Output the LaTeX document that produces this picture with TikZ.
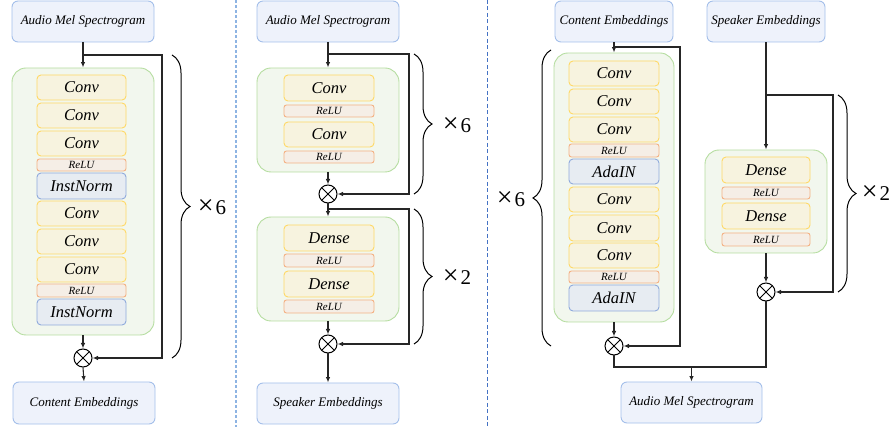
\documentclass[tikz,border=0pt]{standalone}
\usepackage{fontspec}
\setmainfont{Liberation Serif}
\usetikzlibrary{arrows.meta,decorations.pathreplacing}
\definecolor{ioB}{HTML}{A4BFEA}
\definecolor{ioF}{HTML}{EEF2FB}
\definecolor{grB}{HTML}{B5DDA0}
\definecolor{grF}{HTML}{F2F7EE}
\definecolor{cvB}{HTML}{FFD966}
\definecolor{cvF}{HTML}{F7F3DF}
\definecolor{rlB}{HTML}{F4B183}
\definecolor{rlF}{HTML}{F5EEE6}
\definecolor{nmB}{HTML}{8FAADC}
\definecolor{nmF}{HTML}{E7ECF2}
\definecolor{dashA}{HTML}{8EB4E3}
\definecolor{dashB}{HTML}{4472C4}
\newcommand\boxat[7]{\node[#1, minimum width={#4-#2}, minimum height={#5-#3}] (#6) at ({(#2+#4)/2},{(#3+#5)/2}) {#7};}
\newcommand\reptxt[1]{{\fontsize{28}{28}\selectfont ×}\kern2pt#1}
\tikzset{
  io/.style={draw=ioB, fill=ioF, rounded corners=6pt, line width=0.9pt, inner sep=0pt, font=\fontsize{13}{15}\selectfont\itshape},
  grp/.style={draw=grB, fill=grF, rounded corners=14pt, line width=0.9pt, inner sep=0pt},
  conv/.style={draw=cvB, fill=cvF, rounded corners=4pt, line width=0.9pt, inner sep=0pt, font=\fontsize{16.5}{18}\selectfont\itshape},
  relu/.style={draw=rlB, fill=rlF, rounded corners=2.5pt, line width=0.9pt, inner sep=0pt, font=\fontsize{11}{12}\selectfont\itshape},
  norm/.style={draw=nmB, fill=nmF, rounded corners=4pt, line width=0.9pt, inner sep=0pt, font=\fontsize{16.5}{18}\selectfont\itshape},
  otimes/.style={circle, draw=black, fill=white, minimum size=18pt, inner sep=0pt, line width=1pt,
    path picture={\draw[line width=1pt] (path picture bounding box.north west) -- (path picture bounding box.south east)
      (path picture bounding box.north east) -- (path picture bounding box.south west);}},
  conn/.style={draw=black!85, line width=1.1pt},
  arr/.style={conn, -{Latex[length=5.5pt,width=4.5pt]}},
  brc/.style={draw=black, decorate, decoration={brace, amplitude=18pt}, line width=1pt},
  rep/.style={font=\fontsize{21}{24}\selectfont, inner sep=0pt}
}
\begin{document}
\begin{tikzpicture}[x=1pt,y=-1pt]
\useasboundingbox (0,0) rectangle (894,427);
% separators
\draw[dashA, line width=1.6pt, dash pattern=on 3pt off 2pt] (236,0) -- (236,427);
\draw[dashB, line width=1pt, dash pattern=on 4pt off 2.5pt] (487,0) -- (487,427);

% ---------------- left panel ----------------
\boxat{io}{12}{1}{154}{42}{La}{Audio Mel Spectrogram}
\boxat{grp}{12}{68}{154}{335}{Lg}{}
\boxat{conv}{37}{75}{126}{100}{Lc1}{Conv}
\boxat{conv}{37}{103}{126}{128}{Lc2}{Conv}
\boxat{conv}{37}{131}{126}{156}{Lc3}{Conv}
\boxat{relu}{37}{159}{126}{171}{Lr1}{ReLU}
\boxat{norm}{37}{173}{126}{199}{Ln1}{InstNorm}
\boxat{conv}{37}{201}{126}{226}{Lc4}{Conv}
\boxat{conv}{37}{229}{126}{254}{Lc5}{Conv}
\boxat{conv}{37}{257}{126}{282}{Lc6}{Conv}
\boxat{relu}{37}{284}{126}{297}{Lr2}{ReLU}
\boxat{norm}{37}{299}{126}{325}{Ln2}{InstNorm}
\node[otimes] (Lx) at (83,358) {};
\boxat{io}{13}{382}{155}{424}{Lo}{Content Embeddings}
\coordinate (Lr) at (162,55);
\draw[arr] (La.south) -- (Lg.north);
\draw[arr] (La.south |- Lr) -- (Lr) |- (Lx.east);
\draw[arr] (Lg.south) -- (Lx.north);
\draw[arr] (Lx.south) -- (Lo.north);
\coordinate (Lbt) at (172,55);
\coordinate (Lbb) at (172,358);
\draw[brc] (Lbt) -- (Lbb);
\node[rep] (Lt) at (212,207) {\reptxt{6}};

% ---------------- middle panel ----------------
\boxat{io}{257}{1}{399}{42}{Ma}{Audio Mel Spectrogram}
\boxat{grp}{257}{68}{399}{172}{Mg1}{}
\boxat{conv}{284}{75}{374}{101}{Mc1}{Conv}
\boxat{relu}{284}{105}{374}{117}{Mr1}{ReLU}
\boxat{conv}{284}{122}{374}{147}{Mc2}{Conv}
\boxat{relu}{284}{151}{374}{163}{Mr2}{ReLU}
\node[otimes] (Mx1) at (328,194) {};
\boxat{grp}{257}{217}{399}{321}{Mg2}{}
\boxat{conv}{284}{225}{374}{251}{Md1}{Dense}
\boxat{relu}{284}{254}{374}{267}{Mr3}{ReLU}
\boxat{conv}{284}{271}{374}{297}{Md2}{Dense}
\boxat{relu}{284}{300}{374}{313}{Mr4}{ReLU}
\node[otimes] (Mx2) at (328,344) {};
\boxat{io}{257}{383}{399}{424}{Mo}{Speaker Embeddings}
\coordinate (Mq1) at (409,54);
\coordinate (Mq2) at (409,209);
\draw[arr] (Ma.south) -- (Mg1.north);
\draw[arr] (Ma.south |- Mq1) -- (Mq1) |- (Mx1.east);
\draw[arr] (Mg1.south) -- (Mx1.north);
\draw[arr] (Mx1.south) -- (Mg2.north);
\draw[arr] (Mx1.south |- Mq2) -- (Mq2) |- (Mx2.east);
\draw[arr] (Mg2.south) -- (Mx2.north);
\draw[arr] (Mx2.south) -- (Mo.north);
\coordinate (Mb1t) at (414,54);
\coordinate (Mb1b) at (414,194);
\coordinate (Mb2t) at (414,209);
\coordinate (Mb2b) at (414,344);
\draw[brc] (Mb1t) -- (Mb1b);
\draw[brc] (Mb2t) -- (Mb2b);
\node[rep] (Mt1) at (457,125) {\reptxt{6}};
\node[rep] (Mt2) at (457,277) {\reptxt{2}};

% ---------------- right panel ----------------
\boxat{io}{555}{1}{673}{42}{Rc}{Content Embeddings}
\boxat{grp}{554}{53}{674}{322}{Rg}{}
\boxat{conv}{569}{61}{659}{86}{Rc1}{Conv}
\boxat{conv}{569}{89}{659}{114}{Rc2}{Conv}
\boxat{conv}{569}{117}{659}{142}{Rc3}{Conv}
\boxat{relu}{569}{144}{659}{157}{Rr1}{ReLU}
\boxat{norm}{569}{159}{659}{184}{Ra1}{AdaIN}
\boxat{conv}{569}{187}{659}{212}{Rc4}{Conv}
\boxat{conv}{569}{215}{659}{241}{Rc5}{Conv}
\boxat{conv}{569}{243}{659}{268}{Rc6}{Conv}
\boxat{relu}{569}{271}{659}{283}{Rr2}{ReLU}
\boxat{norm}{569}{285}{659}{311}{Ra2}{AdaIN}
\node[otimes] (Rx1) at (614,346) {};
\boxat{io}{707}{1}{825}{42}{Rs}{Speaker Embeddings}
\boxat{grp}{705}{150}{827}{253}{Rg2}{}
\boxat{conv}{722}{157}{810}{183}{Rd1}{Dense}
\boxat{relu}{722}{187}{810}{199}{Rr3}{ReLU}
\boxat{conv}{722}{203}{810}{229}{Rd2}{Dense}
\boxat{relu}{722}{233}{810}{246}{Rr4}{ReLU}
\node[otimes] (Rx2) at (766,292) {};
\boxat{io}{621}{382}{762}{423}{Ro}{Audio Mel Spectrogram}
\coordinate (Rq1) at (680,47);
\coordinate (Rq2) at (833,95);
\coordinate (Rm) at (691.5,367);
\draw[arr] (Rc.south) -- (Rg.north);
\draw[arr] (Rc.south |- Rq1) -- (Rq1) |- (Rx1.east);
\draw[arr] (Rg.south) -- (Rx1.north);
\draw[arr] (Rs.south) -- (Rg2.north);
\draw[arr] (Rs.south |- Rq2) -- (Rq2) |- (Rx2.east);
\draw[arr] (Rg2.south) -- (Rx2.north);
\draw[conn] (Rx1.south) |- (Rm) -| (Rx2.south);
\draw[arr] (Rm) -- (Ro.north);
\coordinate (Rb1b) at (551,346);
\coordinate (Rb1t) at (551,50);
\coordinate (Rb2t) at (838,95);
\coordinate (Rb2b) at (838,292);
\draw[brc] (Rb1b) -- (Rb1t);
\draw[brc] (Rb2t) -- (Rb2b);
\node[rep] (Rt1) at (511,199) {\reptxt{6}};
\node[rep] (Rt2) at (876,193) {\reptxt{2}};
\end{tikzpicture}
\end{document}
